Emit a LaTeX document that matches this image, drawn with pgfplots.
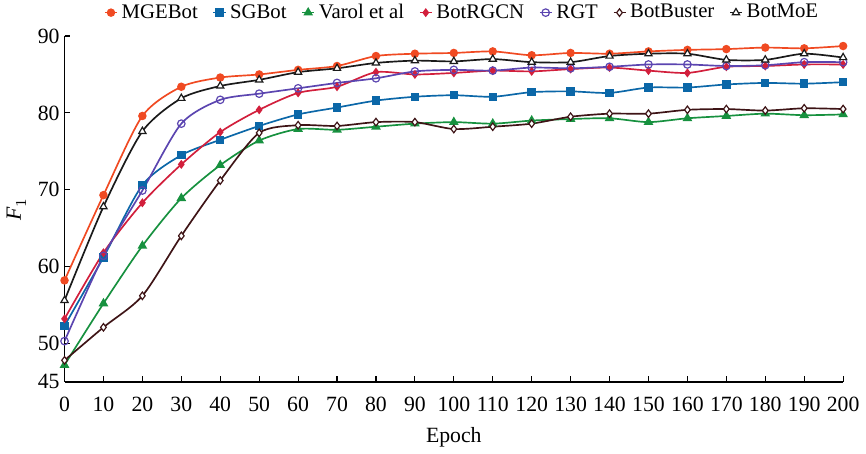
\documentclass[border=0pt]{standalone}
\usepackage{pgfplots}
\pgfplotsset{compat=1.18}
\usepackage{fontspec}
\setmainfont{Liberation Serif}
\usepackage{unicode-math}
\setmathfont{Latin Modern Math}
\setmathfont[range=it]{Liberation Serif Italic}

\definecolor{cMGE}{HTML}{F04A22}
\definecolor{cSG}{HTML}{0B67A8}
\definecolor{cVarol}{HTML}{17913F}
\definecolor{cRGCN}{HTML}{D21F3C}
\definecolor{cRGT}{HTML}{5B45B0}
\definecolor{cBuster}{HTML}{3E1416}
\definecolor{cMoE}{HTML}{1A1A1A}

\begin{document}
\begin{tikzpicture}
\begin{axis}[
    scale only axis,
    width=394pt, height=175pt,
    xmin=0, xmax=200, ymin=45, ymax=90,
    axis x line*=bottom, axis y line*=left,
    axis line style={line width=0.7pt, -},
    xtick={0,10,...,200},
    ytick={45,50,60,70,80,90},
    tick align=inside,
    major tick length=3pt,
    tick style={line width=0.6pt, black},
    ticklabel style={font=\fontsize{11}{13}\selectfont},
    yticklabel style={xshift=1pt},
    xticklabel style={yshift=-4pt},
    /pgf/number format/assume math mode=true,
    xlabel={Epoch},
    ylabel={$F_1$},
    label style={font=\fontsize{11}{13}\selectfont},
    xlabel style={yshift=-1pt},
    ylabel style={yshift=-1pt},
    every axis plot/.append style={line width=0.85pt, smooth, tension=0.45},
    legend style={at={(0.512,1.03)}, anchor=south, draw=none, fill=none,
        font=\fontsize{10.5}{12}\selectfont, legend columns=7,
        /tikz/every even column/.append style={column sep=5.5pt},
        inner sep=0pt},
    legend image code/.code={
        \draw[mark repeat=2,mark phase=2,#1] plot coordinates {(0pt,0pt) (3pt,0pt) (6pt,0pt)};
    },
]
\addplot[color=cMGE, mark=*, mark size=1.7pt] coordinates {
(0,58.2)(10,69.3)(20,79.6)(30,83.4)(40,84.6)(50,85.0)(60,85.6)(70,86.1)(80,87.4)(90,87.7)(100,87.8)
(110,88.0)(120,87.5)(130,87.8)(140,87.7)(150,88.0)(160,88.2)(170,88.3)(180,88.5)(190,88.4)(200,88.7)};
\addlegendentry{MGEBot}
\addplot[color=cSG, mark=square*, mark size=1.7pt] coordinates {
(0,52.3)(10,61.2)(20,70.6)(30,74.5)(40,76.5)(50,78.3)(60,79.8)(70,80.7)(80,81.6)(90,82.1)(100,82.3)
(110,82.1)(120,82.7)(130,82.8)(140,82.6)(150,83.3)(160,83.3)(170,83.7)(180,83.9)(190,83.8)(200,84.0)};
\addlegendentry{SGBot}
\addplot[color=cVarol, mark=triangle*, mark size=2pt] coordinates {
(0,47.2)(10,55.2)(20,62.7)(30,68.9)(40,73.2)(50,76.4)(60,77.9)(70,77.8)(80,78.2)(90,78.6)(100,78.8)
(110,78.6)(120,79.0)(130,79.2)(140,79.3)(150,78.8)(160,79.3)(170,79.6)(180,79.9)(190,79.7)(200,79.8)};
\addlegendentry{Varol et al}
\addplot[color=cRGCN, mark=diamond*, mark size=1.6pt] coordinates {
(0,53.2)(10,61.8)(20,68.3)(30,73.3)(40,77.5)(50,80.4)(60,82.6)(70,83.4)(80,85.3)(90,85.0)(100,85.2)
(110,85.5)(120,85.4)(130,85.7)(140,85.9)(150,85.5)(160,85.2)(170,86.0)(180,86.1)(190,86.3)(200,86.3)};
\addlegendentry{BotRGCN}
\addplot[color=cRGT, mark=o, mark size=1.9pt, mark options={fill=white, line width=0.6pt}] coordinates {
(0,50.3)(10,61.4)(20,69.9)(30,78.6)(40,81.7)(50,82.5)(60,83.2)(70,83.9)(80,84.5)(90,85.4)(100,85.6)
(110,85.5)(120,85.9)(130,85.8)(140,86.0)(150,86.3)(160,86.3)(170,86.1)(180,86.2)(190,86.6)(200,86.6)};
\addlegendentry{RGT}
\addplot[color=cBuster, mark=diamond*, mark size=1.9pt, mark options={fill=white, line width=0.6pt}] coordinates {
(0,47.8)(10,52.1)(20,56.2)(30,64.0)(40,71.2)(50,77.4)(60,78.4)(70,78.3)(80,78.8)(90,78.8)(100,77.9)
(110,78.2)(120,78.6)(130,79.5)(140,79.9)(150,79.9)(160,80.4)(170,80.5)(180,80.3)(190,80.6)(200,80.5)};
\addlegendentry{BotBuster}
\addplot[color=cMoE, mark=triangle*, mark size=2.1pt, mark options={fill=white, line width=0.6pt}] coordinates {
(0,55.6)(10,67.8)(20,77.6)(30,81.9)(40,83.5)(50,84.3)(60,85.3)(70,85.8)(80,86.5)(90,86.8)(100,86.7)
(110,87.0)(120,86.6)(130,86.6)(140,87.4)(150,87.7)(160,87.7)(170,86.9)(180,86.9)(190,87.7)(200,87.2)};
\addlegendentry{BotMoE}
\end{axis}
\end{tikzpicture}
\end{document}
